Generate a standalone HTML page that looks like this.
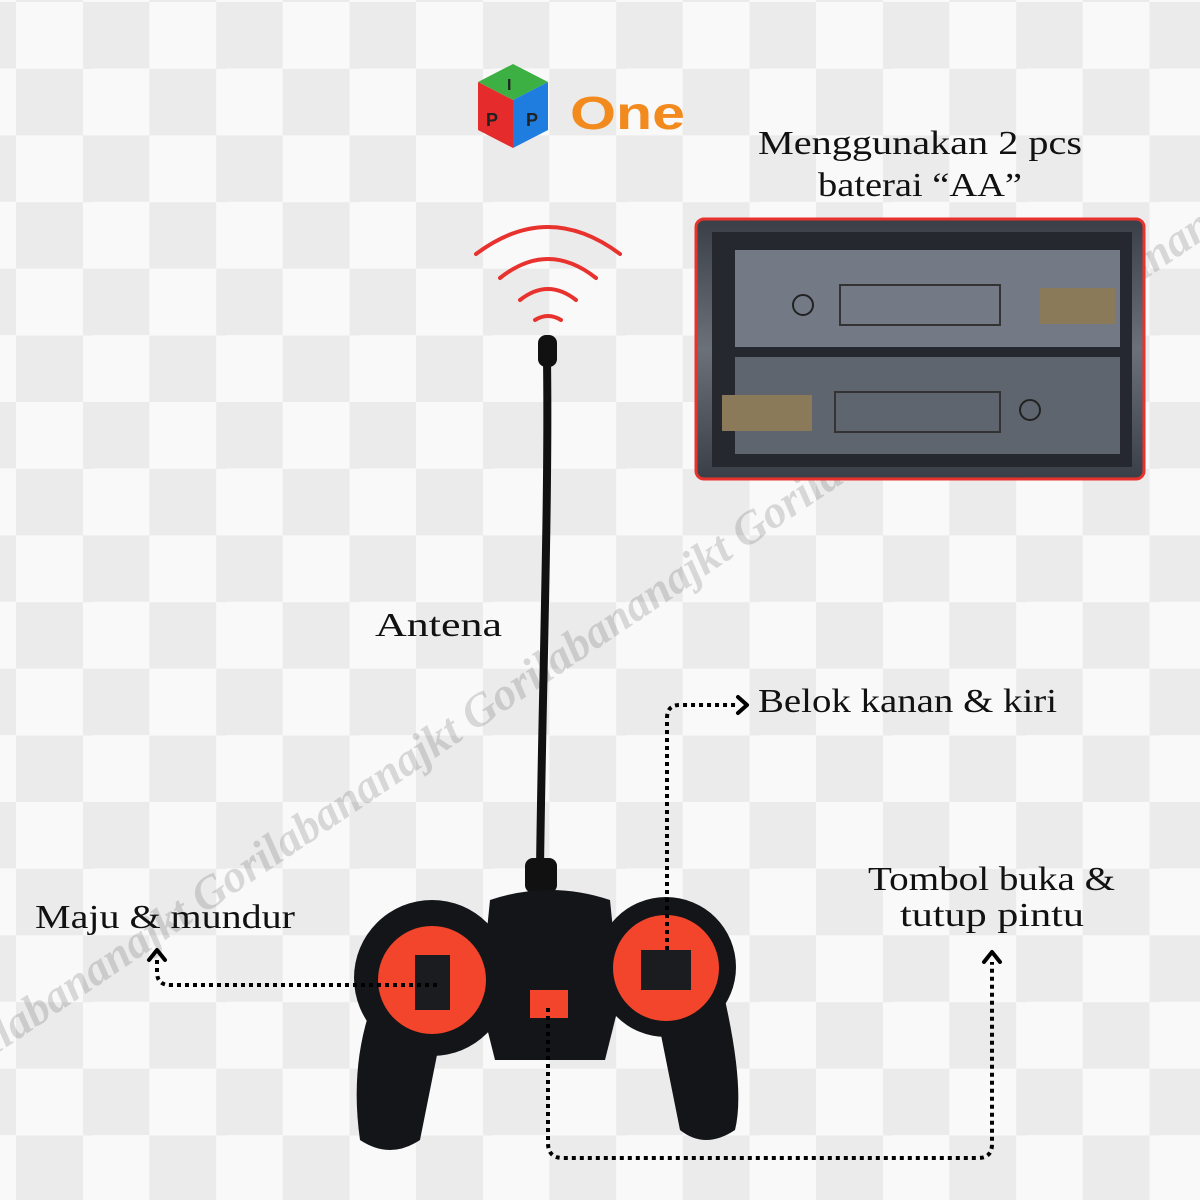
<!DOCTYPE html><html><head><style>
html,body{margin:0;padding:0}
body{width:1200px;height:1200px;overflow:hidden;background:#f9f9f9;
background-image:conic-gradient(#ebebeb 0 25%,#f9f9f9 0 50%,#ebebeb 0 75%,#f9f9f9 0);
background-size:133.33px 133.33px;background-position:16px 2px;}
svg{position:absolute;left:0;top:0}
</style></head><body>
<svg width="1200" height="1200" viewBox="0 0 1200 1200" font-family="Liberation Serif, serif">
<text x="0" y="0" transform="translate(-5,1055) rotate(-34)" font-size="46" font-style="italic" font-weight="bold" fill="#000" opacity="0.13">ilabananajkt Gorilabananajkt Gorilabananajkt Gorilabananajkt Gorilabanan</text>
<polygon points="513,64 548,82 513,100 478,82" fill="#3cb043"/>
<polygon points="478,82 513,100 513,148 478,130" fill="#e52b2b"/>
<polygon points="548,82 513,100 513,148 548,130" fill="#1f7de0"/>
<text x="507" y="90" font-family="Liberation Sans,sans-serif" font-weight="bold" font-size="16" fill="#222">I</text>
<text x="486" y="126" font-family="Liberation Sans,sans-serif" font-weight="bold" font-size="18" fill="#222">P</text>
<text x="526" y="126" font-family="Liberation Sans,sans-serif" font-weight="bold" font-size="18" fill="#222">P</text>
<text x="570" y="129" font-family="Liberation Sans,sans-serif" font-weight="bold" font-size="46" fill="#f28a1e" textLength="115" lengthAdjust="spacingAndGlyphs">One</text>
<g font-size="34" fill="#111">
<text x="758" y="154" textLength="324" lengthAdjust="spacingAndGlyphs">Menggunakan 2 pcs</text>
<text x="818" y="196" textLength="204" lengthAdjust="spacingAndGlyphs">baterai “AA”</text>
<text x="375" y="636" textLength="127" lengthAdjust="spacingAndGlyphs">Antena</text>
<text x="758" y="712" textLength="299" lengthAdjust="spacingAndGlyphs">Belok kanan &amp; kiri</text>
<text x="868" y="890" textLength="247" lengthAdjust="spacingAndGlyphs">Tombol buka &amp;</text>
<text x="900" y="926" textLength="184" lengthAdjust="spacingAndGlyphs">tutup pintu</text>
<text x="35" y="928" textLength="260" lengthAdjust="spacingAndGlyphs">Maju &amp; mundur</text>
</g>
<defs><linearGradient id="bg" x1="0" y1="0" x2="0" y2="1"><stop offset="0" stop-color="#3a3f47"/><stop offset="0.5" stop-color="#6b7079"/><stop offset="1" stop-color="#3a3f47"/></linearGradient></defs>
<rect x="696" y="219" width="448" height="260" rx="8" fill="url(#bg)" stroke="#e8322e" stroke-width="3"/>
<rect x="712" y="232" width="420" height="235" fill="#25292f"/>
<rect x="735" y="250" width="385" height="97" fill="#747a85"/>
<rect x="735" y="357" width="385" height="97" fill="#5f656f"/>
<rect x="840" y="285" width="160" height="40" fill="none" stroke="#333" stroke-width="2"/>
<rect x="835" y="392" width="165" height="40" fill="none" stroke="#333" stroke-width="2"/>
<circle cx="803" cy="305" r="10" fill="none" stroke="#222" stroke-width="2"/>
<circle cx="1030" cy="410" r="10" fill="none" stroke="#222" stroke-width="2"/>
<rect x="1040" y="288" width="75" height="36" fill="#8a7a5a"/>
<rect x="722" y="395" width="90" height="36" fill="#8a7a5a"/>
<g fill="none" stroke="#e8322e" stroke-width="4" stroke-linecap="round">
<path d="M476,254 Q548,200 620,254"/>
<path d="M500,278 Q548,240 596,278"/>
<path d="M520,300 Q548,278 576,300"/>
<path d="M535,320 Q548,312 561,320"/>
</g>
<rect x="538" y="335" width="19" height="32" rx="8" fill="#111"/>
<path d="M547,360 C549,500 542,700 540,870" stroke="#111" stroke-width="8" fill="none"/>
<rect x="525" y="858" width="32" height="35" rx="8" fill="#111"/>
<g fill="#141518">
<path d="M370,1010 L440,1040 L420,1140 Q390,1160 360,1140 Q350,1070 370,1010Z"/>
<path d="M660,1030 L725,1000 Q745,1090 735,1130 Q705,1150 680,1130 Z"/>
<path d="M490,900 Q550,880 610,900 L620,1000 L605,1060 L495,1060 L480,1000Z"/>
<circle cx="432" cy="978" r="78"/>
<circle cx="666" cy="967" r="70"/>
</g>
<circle cx="432" cy="980" r="54" fill="#f2452c"/>
<circle cx="666" cy="968" r="53" fill="#f2452c"/>
<rect x="415" y="955" width="35" height="55" fill="#1b1c1f"/>
<rect x="641" y="950" width="50" height="40" fill="#1b1c1f"/>
<rect x="530" y="990" width="38" height="28" fill="#f2452c"/>
<g fill="none" stroke="#000" stroke-width="4" stroke-dasharray="4 4">
<path d="M437,985 L170,985 Q157,985 157,972 L157,958"/>
<path d="M667,950 L667,718 Q667,705 680,705 L738,705"/>
<path d="M548,1008 L548,1143 Q548,1158 563,1158 L978,1158 Q992,1158 992,1144 L992,962"/>
</g>
<g fill="none" stroke="#000" stroke-width="4" stroke-linecap="round" stroke-linejoin="round">
<path d="M149,960 L157,950 L165,960"/>
<path d="M738,697 L747,705 L738,713"/>
<path d="M984,962 L992,952 L1000,962"/>
</g>
</svg>
</body></html>
